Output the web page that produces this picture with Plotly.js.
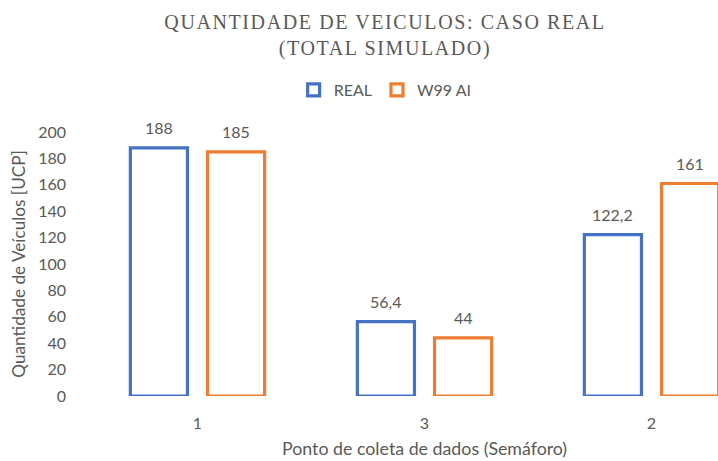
<!DOCTYPE html>
<html>
<head>
<meta charset="utf-8">
<script src="https://cdn.plot.ly/plotly-3.0.1.min.js"></script>
<style>
html,body{margin:0;padding:0;background:#fff;overflow:hidden;}
.gtitle{letter-spacing:1.6px;}
</style>
</head>
<body>
<div id="chart" style="width:718px;height:461px;"></div>
<script>
const categories = ['1', '3', '2'];
const realValues = [188, 56.4, 122.2];
const w99Values = [185, 44, 161];
const seriesNames = ['REAL', 'W99 AI'];
const seriesColors = ['#4472C4', '#ED7D31'];
const yTicks = [0, 20, 40, 60, 80, 100, 120, 140, 160, 180, 200];

const grey = '#595959';
const fmt = v => String(v).replace('.', ',');

function barTrace(name, vals, color) {
  return {
    type: 'bar',
    name: name,
    x: categories,
    y: vals,
    marker: {color: '#ffffff', line: {color: color, width: 3.2}},
    hoverinfo: 'skip'
  };
}

const data = [
  barTrace(seriesNames[0], realValues, seriesColors[0]),
  barTrace(seriesNames[1], w99Values, seriesColors[1])
];

// data labels above each bar (grouped offset of the two series)
const labelAnns = [];
[realValues, w99Values].forEach((vals, si) => {
  vals.forEach((v, ci) => {
    labelAnns.push({
      text: fmt(v),
      xref: 'x', x: ci + (si === 0 ? -0.17 : 0.17),
      yref: 'y', y: v, yshift: 20,
      xanchor: 'center', yanchor: 'middle', showarrow: false,
      font: {family: 'Lato', size: 16, color: grey}
    });
  });
});

const layout = {
  width: 718,
  height: 461,
  margin: {l: 84, r: 0, t: 132, b: 65},
  paper_bgcolor: '#ffffff',
  plot_bgcolor: '#ffffff',
  barmode: 'group',
  bargap: 0.32,
  bargroupgap: 0.26,
  title: {
    text: 'QUANTIDADE DE VEICULOS: CASO REAL<br>(TOTAL SIMULADO)',
    font: {family: 'Liberation Serif', size: 20, color: grey},
    x: 385 / 718, xanchor: 'center', xref: 'container',
    y: 1 - 29 / 461, yanchor: 'middle', yref: 'container'
  },
  showlegend: true,
  legend: {
    orientation: 'h',
    x: 0.475, xanchor: 'center', xref: 'paper',
    y: 1 + (132 - 90) / (461 - 132 - 65), yanchor: 'middle',
    font: {family: 'Lato', size: 16, color: grey},
    itemwidth: 30,
    traceorder: 'normal'
  },
  xaxis: {
    type: 'category',
    range: [-0.5, 2.293],
    showgrid: false, zeroline: false, showline: false,
    ticks: '',
    ticklabelstandoff: 16,
    tickfont: {family: 'Lato', size: 16, color: grey},
    fixedrange: true
  },
  yaxis: {
    range: [0, 200],
    tickvals: yTicks,
    showgrid: false, zeroline: false, showline: false,
    ticks: '',
    ticklabelstandoff: 17,
    tickfont: {family: 'Lato', size: 16, color: grey},
    title: {text: 'Quantidade de Veículos [UCP]', font: {family: 'Lato', size: 17.2, color: grey}, standoff: 8},
    fixedrange: true
  },
  annotations: labelAnns.concat([{
    text: 'Ponto de coleta de dados (Semáforo)',
    xref: 'x', x: 1, yref: 'paper', y: 0, yshift: -52,
    yanchor: 'middle', xanchor: 'center', showarrow: false,
    font: {family: 'Lato', size: 17.8, color: grey}
  }])
};

Plotly.newPlot('chart', data, layout, {displayModeBar: false, staticPlot: true});
</script>
</body>
</html>
